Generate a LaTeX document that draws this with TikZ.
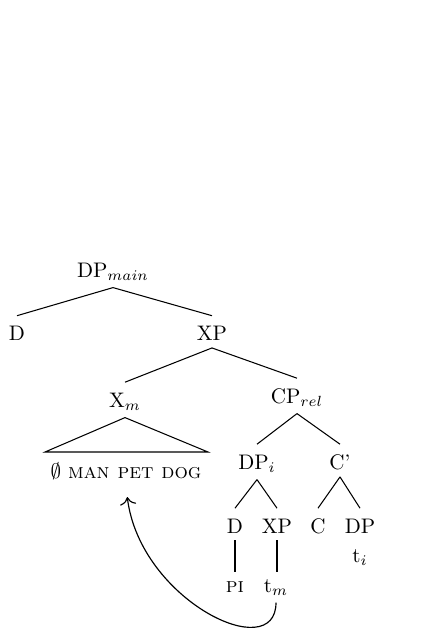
\documentclass[tikz,border=0pt]{standalone}
\usetikzlibrary{calc,arrows.meta}
\begin{document}
\begin{tikzpicture}[x=0.475pt,y=-0.475pt,
  lab/.style={anchor=base, inner xsep=2pt, inner ysep=3.33pt, text height=8.25pt},
  leaf/.style={anchor=base, inner xsep=2pt, inner ysep=3.33pt, text height=6pt},
  edge/.style={line width=0.5pt},
  movearrow/.style={line width=0.55pt, -{To[scale=1.3]}, shorten >=5pt}]
\useasboundingbox (0,0) rectangle (438,630);
% nodes
\node[lab] (dpmain) at (113,277) {DP$_{main}$};
\node[lab] (d1) at (17,340.5) {D};
\node[lab] (xp1) at (212,340.5) {XP};
\node[lab] (xm) at (125,407) {X$_m$};
\node[lab] (cprel) at (297,403) {CP$_{rel}$};
\node[leaf] (words) at (126,478) {$\emptyset$ \textsc{man pet dog}};
\node[lab] (dpi) at (257,469) {DP$_i$};
\node[lab] (cbar) at (340,469) {C'};
\node[lab] (d2) at (235,533) {D};
\node[lab] (xp2) at (277,533) {XP};
\node[lab] (c3) at (318,533) {C};
\node[lab] (dp3) at (360,533) {DP};
\node[leaf] (ti) at (360,562) {t$_i$};
\node[leaf] (pi) at (235,592) {\textsc{pi}};
\node[leaf] (tm) at (276,592) {t$_m$};
% roof
\coordinate (roofL) at (45,452);
\coordinate (roofR) at (208,452);
% edges
\draw[edge] (dpmain.south) -- (d1.north);
\draw[edge] (dpmain.south) -- (xp1.north);
\draw[edge] (xp1.south) -- (xm.north);
\draw[edge] (xp1.south) -- (cprel.north);
\draw[edge] (xm.south) -- (roofL) -- (roofR) -- cycle;
\draw[edge] (cprel.south) -- (dpi.north);
\draw[edge] (cprel.south) -- (cbar.north);
\draw[edge] (dpi.south) -- (d2.north);
\draw[edge] (dpi.south) -- (xp2.north);
\draw[edge] (cbar.south) -- (c3.north);
\draw[edge] (cbar.south) -- (dp3.north);
\draw[edge] (d2.south) -- (d2.south |- pi.north);
\draw[edge] (xp2.south) -- (xp2.south |- tm.north);
% movement arrow
\draw[movearrow] (tm.south) .. controls +(0,63) and +(14,114) .. (words.south);
\end{tikzpicture}
\end{document}
